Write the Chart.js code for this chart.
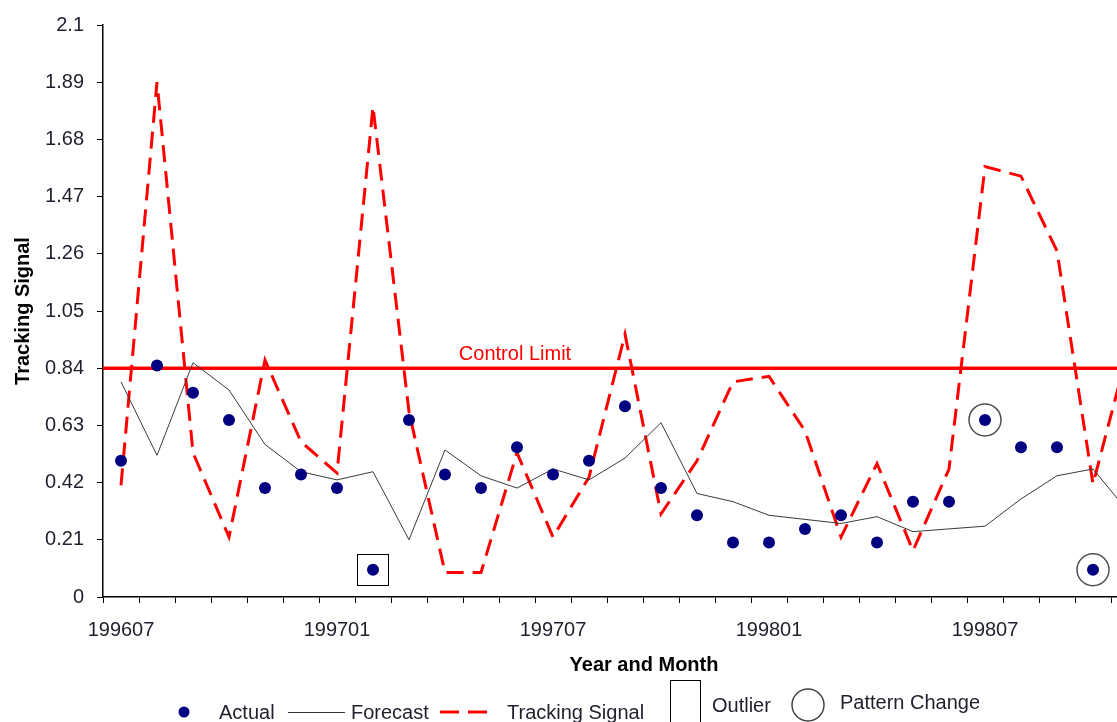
<!DOCTYPE html>
<html>
<head>
<meta charset="utf-8">
<title>Tracking Signal</title>
<script src="https://cdn.jsdelivr.net/npm/chart.js@4.4.1/dist/chart.umd.min.js"></script>
<style>
  html, body { margin: 0; padding: 0; background: #fff; overflow: hidden; }
  #wrap { width: 1160px; height: 722px; }
</style>
</head>
<body>
<div id="wrap"><canvas id="trackingChart" width="1160" height="722"></canvas></div>
<script>
// Tracking signal chart — actual vs forecast, with control limit

const months = [
  '199607', '199608', '199609', '199610', '199611', '199612',
  '199701', '199702', '199703', '199704', '199705', '199706',
  '199707', '199708', '199709', '199710', '199711', '199712',
  '199801', '199802', '199803', '199804', '199805', '199806',
  '199807', '199808', '199809', '199810', '199811'
];

const actual = [
  0.5, 0.85, 0.75, 0.65, 0.4, 0.45,
  0.4, 0.1, 0.65, 0.45, 0.4, 0.55,
  0.45, 0.5, 0.7, 0.4, 0.3, 0.2,
  0.2, 0.25, 0.3, 0.2, 0.35, 0.35,
  0.65, 0.55, 0.55, 0.1, null
];

const forecast = [
  0.79, 0.52, 0.86, 0.76, 0.56, 0.46,
  0.43, 0.46, 0.21, 0.54, 0.445, 0.4,
  0.47, 0.43, 0.51, 0.64, 0.38, 0.35,
  0.3, 0.285, 0.27, 0.295, 0.24, 0.25,
  0.26, 0.36, 0.445, 0.47, 0.31
];

const trackingSignal = [
  0.41, 1.89, 0.53, 0.22, 0.87, 0.57,
  0.455, 1.8, 0.68, 0.09, 0.09, 0.53,
  0.22, 0.44, 0.965, 0.305, 0.5, 0.79,
  0.81, 0.61, 0.22, 0.49, 0.17, 0.47,
  1.58, 1.545, 1.27, 0.415, 0.92
];

const yTicks = [0, 0.21, 0.42, 0.63, 0.84, 1.05, 1.26, 1.47, 1.68, 1.89, 2.1];
const controlLimit = 0.84;
const outliers = [7];          // index into months
const patternChanges = [24, 27];

const FONT = "'Liberation Sans', Arial, sans-serif";
const TEXT = '#1f1f2e';

const extras = {
  id: 'extras',
  beforeDatasetsDraw(chart) {
    const { ctx, chartArea, scales } = chart;
    const y = scales.y.getPixelForValue(controlLimit);
    ctx.save();
    ctx.strokeStyle = '#ff0000';
    ctx.lineWidth = 3.5;
    ctx.beginPath();
    ctx.moveTo(chartArea.left, y);
    ctx.lineTo(chartArea.right, y);
    ctx.stroke();
    ctx.fillStyle = '#ff0000';
    ctx.font = '20px ' + FONT;
    ctx.textAlign = 'center';
    ctx.textBaseline = 'alphabetic';
    ctx.fillText('Control Limit', scales.x.getPixelForValue(11) - 2, y - 8);
    ctx.restore();
  },
  afterDatasetsDraw(chart) {
    const { ctx, scales } = chart;
    ctx.save();
    ctx.strokeStyle = '#000';
    ctx.lineWidth = 1;
    outliers.forEach(i => {
      const px = Math.round(scales.x.getPixelForValue(i));
      const py = Math.round(scales.y.getPixelForValue(actual[i]));
      ctx.strokeRect(px - 15.5, py - 15.5, 31, 31);
    });
    ctx.strokeStyle = '#505050';
    ctx.lineWidth = 1.5;
    patternChanges.forEach(i => {
      const px = scales.x.getPixelForValue(i);
      const py = scales.y.getPixelForValue(actual[i]);
      ctx.beginPath();
      ctx.arc(px, py, 16, 0, Math.PI * 2);
      ctx.stroke();
    });
    ctx.restore();
  },
  afterDraw(chart) {
    const ctx = chart.ctx;
    ctx.save();
    // axis titles
    ctx.fillStyle = '#000';
    ctx.font = 'bold 20px ' + FONT;
    ctx.textAlign = 'center';
    ctx.textBaseline = 'middle';
    ctx.fillText('Year and Month', 644, 665);
    ctx.translate(23, 311);
    ctx.rotate(-Math.PI / 2);
    ctx.fillText('Tracking Signal', 0, 0);
    ctx.setTransform(1, 0, 0, 1, 0, 0);

    // legend
    ctx.font = '20px ' + FONT;
    ctx.fillStyle = TEXT;
    ctx.textAlign = 'left';
    ctx.textBaseline = 'middle';

    ctx.fillStyle = '#000080';
    ctx.beginPath();
    ctx.arc(184, 712, 5.5, 0, Math.PI * 2);
    ctx.fill();
    ctx.fillStyle = TEXT;
    ctx.fillText('Actual', 219, 713);

    ctx.strokeStyle = '#333';
    ctx.lineWidth = 1;
    ctx.beginPath();
    ctx.moveTo(288, 712.5);
    ctx.lineTo(345, 712.5);
    ctx.stroke();
    ctx.fillText('Forecast', 351, 713);

    ctx.strokeStyle = '#ff0000';
    ctx.lineWidth = 3;
    ctx.setLineDash([19, 9]);
    ctx.beginPath();
    ctx.moveTo(440, 712);
    ctx.lineTo(496, 712);
    ctx.stroke();
    ctx.setLineDash([]);
    ctx.fillText('Tracking Signal', 507, 713);

    ctx.strokeStyle = '#000';
    ctx.lineWidth = 1;
    ctx.strokeRect(670.5, 680.5, 30, 50);
    ctx.fillText('Outlier', 712, 706);

    ctx.strokeStyle = '#444';
    ctx.lineWidth = 1.5;
    ctx.beginPath();
    ctx.arc(808, 705, 16, 0, Math.PI * 2);
    ctx.stroke();
    ctx.fillText('Pattern Change', 840, 703);
    ctx.restore();
  }
};

new Chart(document.getElementById('trackingChart'), {
  type: 'line',
  data: {
    labels: months,
    datasets: [
      {
        label: 'Actual',
        data: actual,
        showLine: false,
        pointRadius: 6,
        pointBackgroundColor: '#000080',
        pointBorderColor: '#000080',
        pointBorderWidth: 0
      },
      {
        label: 'Forecast',
        data: forecast,
        borderColor: '#3a3a3a',
        borderWidth: 1,
        pointRadius: 0,
        tension: 0
      },
      {
        label: 'Tracking Signal',
        data: trackingSignal,
        borderColor: '#ff0000',
        borderWidth: 3,
        borderDash: [17, 9],
        pointRadius: 0,
        tension: 0
      }
    ]
  },
  options: {
    responsive: false,
    animation: false,
    devicePixelRatio: 1,
    layout: { autoPadding: false, padding: { top: 21, right: 13, bottom: 0, left: 0 } },
    plugins: {
      legend: { display: false },
      tooltip: { enabled: false }
    },
    scales: {
      x: {
        offset: true,
        grid: { offset: true, drawOnChartArea: false, tickLength: 6, color: '#000' },
        border: { color: '#000', width: 1.5 },
        ticks: {
          autoSkip: false,
          maxRotation: 0,
          padding: 15,
          color: TEXT,
          font: { family: FONT, size: 20 },
          callback: (v, i) => (i % 6 === 0 ? months[i] : '')
        },
        afterFit(scale) { scale.height = 125; }
      },
      y: {
        min: 0,
        max: 2.1,
        grid: { drawOnChartArea: false, tickLength: 6, color: '#000' },
        border: { color: '#000', width: 1.5 },
        ticks: {
          padding: 13,
          color: TEXT,
          font: { family: FONT, size: 20 },
          callback: v => String(Number(v.toFixed(2)))
        },
        afterBuildTicks(scale) { scale.ticks = yTicks.map(v => ({ value: v })); },
        afterFit(scale) { scale.width = 103; }
      }
    }
  },
  plugins: [extras]
});
</script>
</body>
</html>
